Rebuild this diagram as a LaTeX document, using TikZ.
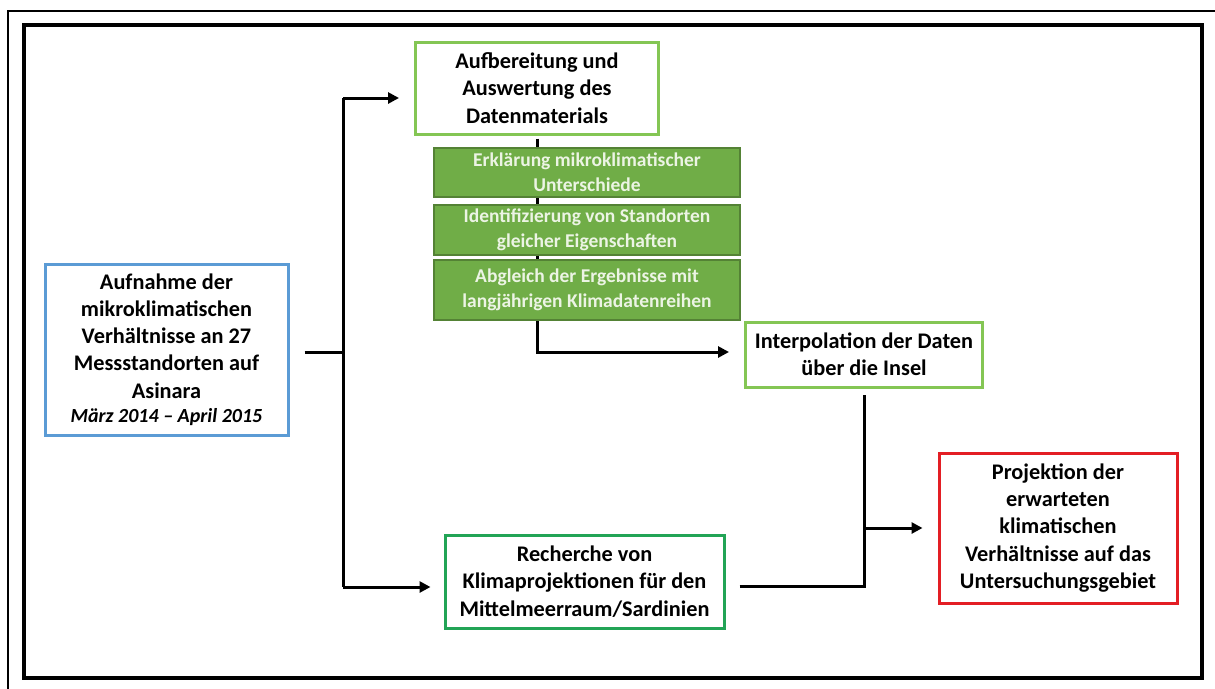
\documentclass[tikz,border=0pt]{standalone}
\usepackage{fontspec}
\setmainfont{Carlito}
\usetikzlibrary{arrows.meta}
\definecolor{frameblue}{RGB}{91,155,213}
\definecolor{lightgreen}{RGB}{132,198,84}
\definecolor{stepfill}{RGB}{112,173,71}
\definecolor{stepdraw}{RGB}{84,130,53}
\definecolor{steptext}{RGB}{236,244,228}
\definecolor{darkgreen}{RGB}{34,164,86}
\definecolor{framered}{RGB}{227,30,36}
\tikzset{
  box/.style={draw, line width=3pt, fill=white, align=center, inner sep=0pt,
    font=\fontsize{22.3}{27.3}\selectfont\bfseries},
  stepbox/.style={draw=stepdraw, fill=stepfill, line width=2.5pt, align=center,
    inner sep=0pt, minimum width=306pt, text=steptext,
    font=\fontsize{19.5}{25}\selectfont\bfseries},
  conn/.style={line width=3pt},
  arr/.style={line width=3pt, -{Triangle[length=11pt,width=11pt]}}
}
\begin{document}
\begin{tikzpicture}[x=1pt,y=-1pt]
\useasboundingbox (0,0) rectangle (1215,688);
% frames
\draw[line width=1.5pt] (8,11) rectangle (1240,710);
\draw[line width=3.5pt] (24,25) rectangle (1202,678);

% junction points of the connectors
\coordinate (sT) at (343,98);
\coordinate (sM) at (343,352);
\coordinate (sB) at (343,587);
\coordinate (jR) at (864,586);
\coordinate (bend) at (537,352);

% boxes (placed first so connectors can refer to them)
\node[box, draw=frameblue, minimum width=243pt, minimum height=171pt] (blue) at (166.5,349.5)
  {Aufnahme der\\mikroklimatischen\\Verhältnisse an 27\\Messstandorten auf\\Asinara\\[-3pt]
   {\fontsize{20}{22}\selectfont\itshape März 2014 – April 2015}};
\node[box, draw=lightgreen, minimum width=243pt, minimum height=92pt] (top) at (537,88)
  {Aufbereitung und\\Auswertung des\\Datenmaterials};
\node[box, draw=lightgreen, minimum width=237pt, minimum height=65pt] (interp) at (864,354.5)
  {Interpolation der Daten\\über die Insel};
\node[box, draw=framered, minimum width=238pt, minimum height=150pt] (red) at (1058,528)
  {Projektion der\\erwarteten\\klimatischen\\Verhältnisse auf das\\Untersuchungsgebiet};
\node[box, draw=darkgreen, minimum width=279pt, minimum height=93pt] (rech) at (584.5,581.5)
  {Recherche von\\Klimaprojektionen für den\\Mittelmeerraum/Sardinien};

% connectors
\draw[conn] (sT) -- (sB);
\draw[conn] ([xshift=15pt]blue.east |- sM) -- (sM);
\draw[arr] (sT) -- ([xshift=-15pt]top.west |- sT);
\draw[arr] (sB) -- ([xshift=-13pt]rech.west |- sB);
\draw[arr] ([yshift=-3pt]top.south) -- (bend) -- ([xshift=-15pt]interp.west |- bend);
\draw[conn] ([xshift=14pt]rech.east |- jR) -- (jR) -- ([yshift=-6pt]interp.south);
\draw[arr] (jR |- red.west) -- ([xshift=-15pt]red.west);

% analysis steps on top of the vertical connector
\node[stepbox, minimum height=49pt] (g1) at (587,172.5)
  {Erklärung mikroklimatischer\\Unterschiede};
\node[stepbox, minimum height=50pt] (g2) at (587,230)
  {Identifizierung von Standorten\\gleicher Eigenschaften};
\node[stepbox, minimum height=60pt] (g3) at (587,290)
  {Abgleich der Ergebnisse mit\\langjährigen Klimadatenreihen};
\end{tikzpicture}
\end{document}
